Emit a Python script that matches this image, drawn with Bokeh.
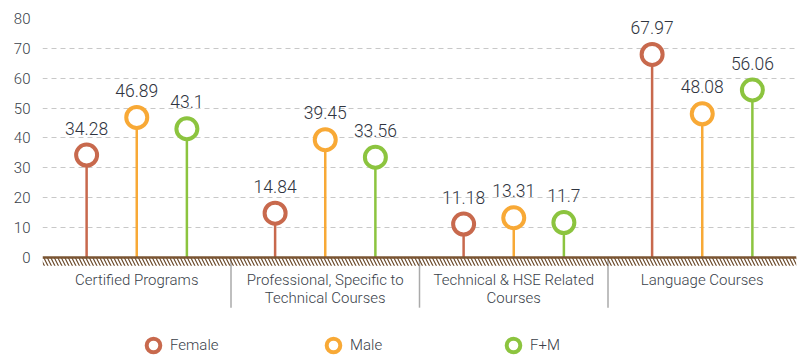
from bokeh.plotting import figure
from bokeh.models import (FactorRange, Range1d, Span, BoxAnnotation, Legend, LegendItem,
                          ColumnDataSource, FixedTicker)
from bokeh.core.properties import value
from bokeh.embed import file_html
from bokeh.resources import INLINE

categories = ["Certified Programs", "Professional, Specific to\nTechnical Courses",
              "Technical & HSE Related\nCourses", "Language Courses"]
series = ["Female", "Male", "F+M"]
female = [34.28, 14.84, 11.18, 67.97]
male = [46.89, 39.45, 13.31, 48.08]
fm = [43.1, 33.56, 11.7, 56.06]
y_ticks = [0, 10, 20, 30, 40, 50, 60, 70, 80]
colors = ["#C8694D", "#F8A936", "#8CC43F"]

FONT = "Roboto Light"
GROUP_PAD = 0.76
factors = [(c, s) for c in categories for s in series]

p = figure(width=800, height=362, output_backend="svg", toolbar_location=None,
           x_range=FactorRange(*factors, factor_padding=0.0, group_padding=GROUP_PAD,
                               range_padding=GROUP_PAD / 2, range_padding_units="absolute"),
           y_range=Range1d(-35.15, 80), x_axis_location=None,
           min_border_left=42, min_border_right=4, min_border_top=18, min_border_bottom=0)
p.outline_line_color = None
p.background_fill_color = "white"

# grid
p.xgrid.grid_line_color = None
p.ygrid.ticker = FixedTicker(ticks=y_ticks[1:])
p.ygrid.grid_line_color = "#c8c8c8"
p.ygrid.grid_line_dash = "5 4"
p.ygrid.grid_line_width = 1

# y axis
p.yaxis.ticker = FixedTicker(ticks=y_ticks)
p.yaxis.axis_line_color = None
p.yaxis.major_tick_line_color = None
p.yaxis.minor_tick_line_color = None
p.yaxis.major_tick_out = 0
p.yaxis.major_label_standoff = 12
p.yaxis.major_label_text_font = FONT
p.yaxis.major_label_text_font_size = "15px"
p.yaxis.major_label_text_color = "#3a3f4a"

# ground hatch
p.add_layout(BoxAnnotation(bottom=-2.8, top=0, fill_alpha=0, line_color=None,
                           hatch_pattern="\\", hatch_color="#6b4a2b", hatch_scale=7,
                           hatch_weight=1.2))
p.add_layout(Span(location=0, dimension="width", line_color="#7a5432", line_width=2.5))

# category separators and labels
sep_x = [(categories[i], series[-1], 0.5 + GROUP_PAD / 2) for i in range(len(categories) - 1)]
p.segment(x0=sep_x, y0=[0] * len(sep_x), x1=sep_x, y1=[-16.8] * len(sep_x),
          line_color="#aaaaaa", line_width=1.5)
p.text(x=[(c, series[1]) for c in categories], y=[0] * len(categories), text=categories,
       text_font=value(FONT), text_font_size="15px", text_color="#3a3f4a",
       text_align="center", text_baseline="top", y_offset=14, text_line_height=1.0)

legend_items = []
for s, vals, col in zip(series, [female, male, fm], colors):
    src = ColumnDataSource(dict(x=[(c, s) for c in categories], y=vals,
                                y0=[0] * len(vals), lab=[str(v) for v in vals]))
    p.segment(x0="x", y0="y0", x1="x", y1="y", source=src, line_color=col, line_width=2.5)
    r = p.scatter(x="x", y="y", source=src, marker="circle", size=21, fill_color="white",
                  line_color=col, line_width=4)
    p.text(x="x", y="y", text="lab", source=src, text_font=value(FONT),
           text_font_size="17.5px", text_color="#2f3440", text_align="center",
           text_baseline="alphabetic", y_offset=-27)
    legend_items.append(LegendItem(label=s, renderers=[r]))

legend = Legend(items=legend_items, orientation="horizontal", location=(94, 0),
                glyph_width=34, glyph_height=34, label_standoff=0, label_width=60,
                spacing=86, padding=0, margin=0, border_line_color=None,
                background_fill_alpha=0, label_text_font=FONT,
                label_text_font_size="15px", label_text_color="#3a3f4a")
p.add_layout(legend)

open("out.html", "w").write(file_html(p, INLINE))
